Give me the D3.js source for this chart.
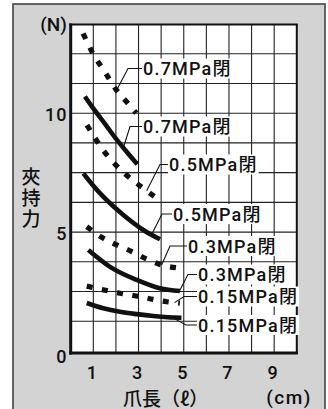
<!DOCTYPE html>
<html>
<head>
<meta charset="utf-8">
<script src="https://cdn.jsdelivr.net/npm/d3@7"></script>
<style>
    body { margin: 0; background: #fff; }
    text { font-family: Roboto, "Liberation Sans", Arial, "Noto Sans CJK JP", sans-serif; font-weight: 500; fill: #111; }
    .cjk { font-family: "Noto Sans CJK JP", sans-serif; }
</style>
</head>
<body>
<div id="chart"></div>
<script>
// axis ticks
const xTicks = [1, 3, 5, 7, 9];
const yTicks = [0, 5, 10];

// grip length (cm) / gripping force (N), one pair per curve
const len07dot = [0.55, 1.0, 1.5, 2.0, 2.5, 2.9];
const force07dot = [13.35, 12.48, 11.75, 11.0, 10.45, 10.0];
const len07 = [0.63, 1.0, 1.5, 2.0, 2.5, 2.95];
const force07 = [10.7, 10.2, 9.57, 8.93, 8.35, 7.85];
const len05dot = [0.72, 1.07, 1.43, 1.87, 2.31, 2.84, 3.37, 3.92];
const force05dot = [9.5, 8.96, 8.45, 7.95, 7.53, 7.11, 6.73, 6.35];
const len05 = [0.56, 1.0, 1.44, 2.33, 3.21, 3.95];
const force05 = [7.47, 6.95, 6.49, 5.72, 5.09, 4.70];
const len03dot = [0.71, 1.37, 2.03, 2.70, 3.36, 4.02, 4.87];
const force03dot = [5.23, 4.78, 4.46, 4.18, 3.87, 3.62, 3.48];
const len03 = [0.78, 1.74, 2.92, 3.94, 4.83];
const force03 = [4.25, 3.54, 2.99, 2.64, 2.52];
const len015dot = [0.71, 1.44, 2.18, 2.92, 3.65, 4.25, 4.83];
const force015dot = [2.73, 2.57, 2.43, 2.31, 2.17, 2.07, 2.01];
const len015 = [0.71, 1.44, 2.18, 2.92, 3.65, 4.3, 4.9];
const force015 = [2.02, 1.80, 1.65, 1.55, 1.47, 1.42, 1.40];

const curveNames = ["0.7MPa閉", "0.7MPa閉", "0.5MPa閉", "0.5MPa閉", "0.3MPa閉", "0.3MPa閉", "0.15MPa閉", "0.15MPa閉"];
const curveLens = [len07dot, len07, len05dot, len05, len03dot, len03, len015dot, len015];
const curveForces = [force07dot, force07, force05dot, force05, force03dot, force03, force015dot, force015];
// where each label's leader touches its curve (cm)
const leaderAt = [2.03, 2.33, 3.36, 3.58, 4.02, 4.81, 4.59, 4.48];

const W = 328, H = 409;
const plot = {left: 70.7, right: 296.8, top: 24, bottom: 351};

const svg = d3.select("#chart").append("svg")
    .attr("width", W)
    .attr("height", H);

// grey frame
svg.append("rect")
    .attr("x", 13).attr("y", 4)
    .attr("width", 312).attr("height", 420)
    .attr("fill", "#d3d3d3")
    .attr("stroke", "#444")
    .attr("stroke-width", 1.6);

// scales
const x = d3.scaleLinear().domain([0, 10]).range([plot.left, plot.right]);
const y = d3.scaleLinear().domain([0, 13.75]).range([plot.bottom, plot.top]);

// plot area
svg.append("rect")
    .attr("x", plot.left).attr("y", 24.5)
    .attr("width", plot.right - plot.left).attr("height", 353 - 24.5)
    .attr("fill", "#fff");

// grid
svg.append("g")
    .selectAll("line")
    .data(d3.range(1, 10))
    .join("line")
    .attr("x1", d => x(d)).attr("x2", d => x(d))
    .attr("y1", 24.5).attr("y2", 353)
    .attr("stroke", "#222").attr("stroke-width", 1.1);

svg.append("g")
    .selectAll("line")
    .data(d3.range(1, 11).map(i => i * 1.25))
    .join("line")
    .attr("x1", plot.left).attr("x2", plot.right)
    .attr("y1", d => y(d)).attr("y2", d => y(d))
    .attr("stroke", "#222").attr("stroke-width", 1.1);

// frame of plot
svg.append("line").attr("x1", plot.left - 1.5).attr("x2", plot.right + 1).attr("y1", 24.5).attr("y2", 24.5)
    .attr("stroke", "#111").attr("stroke-width", 2);
svg.append("line").attr("x1", plot.right).attr("x2", plot.right).attr("y1", 24.5).attr("y2", 354)
    .attr("stroke", "#111").attr("stroke-width", 2);
svg.append("line").attr("x1", plot.left).attr("x2", plot.left).attr("y1", 23.5).attr("y2", 354.5)
    .attr("stroke", "#111").attr("stroke-width", 3);
svg.append("line").attr("x1", plot.left - 1.5).attr("x2", plot.right + 1).attr("y1", 353).attr("y2", 353)
    .attr("stroke", "#111").attr("stroke-width", 3.2);

// tick labels
svg.append("g")
    .selectAll("text")
    .data(xTicks)
    .join("text")
    .attr("x", d => x(d) - 1.5)
    .attr("y", 372)
    .attr("text-anchor", "middle")
    .attr("dominant-baseline", "central")
    .attr("font-size", 18)
    .text(d => d);

svg.append("g")
    .selectAll("text")
    .data(yTicks)
    .join("text")
    .attr("x", 67.5)
    .attr("y", d => y(d) + (d === 0 ? 5 : 1))
    .attr("text-anchor", "end")
    .attr("dominant-baseline", "central")
    .attr("font-size", 18)
    .attr("letter-spacing", 1)
    .text(d => d);

// axis titles
svg.append("text")
    .attr("x", 53.5).attr("y", 24)
    .attr("text-anchor", "middle")
    .attr("dominant-baseline", "central")
    .attr("font-size", 19)
    .text("(N)");

svg.append("text")
    .attr("class", "cjk")
    .attr("x", 31).attr("y", 167)
    .style("writing-mode", "vertical-rl")
    .attr("font-size", 19)
    .attr("letter-spacing", 2)
    .text("夾持力");

svg.append("text")
    .attr("class", "cjk")
    .attr("x", 123).attr("y", 397)
    .attr("dominant-baseline", "central")
    .attr("font-size", 19)
    .text("爪長（ℓ）");

svg.append("text")
    .attr("x", 289).attr("y", 397)
    .attr("text-anchor", "middle")
    .attr("dominant-baseline", "central")
    .attr("font-size", 19)
    .attr("letter-spacing", 1.5)
    .text("(cm)");

// curves
const line = d3.line()
    .x(d => x(d[0]))
    .y(d => y(d[1]))
    .curve(d3.curveMonotoneX);

const curves = curveLens.map((lens, i) => lens.map((l, j) => [l, curveForces[i][j]]));

svg.append("g")
    .selectAll("path")
    .data(curves)
    .join("path")
    .attr("d", line)
    .attr("fill", "none")
    .attr("stroke", "#111")
    .attr("stroke-width", (d, i) => i % 2 === 0 ? 5.2 : 4.6)
    .attr("stroke-dasharray", (d, i) => i % 2 === 0 ? "6 9.5" : null);

// labels with leader lines
function forceAt(i, cm) {
    const lens = curveLens[i], f = curveForces[i];
    for (let j = 1; j < lens.length; j++) {
        if (cm <= lens[j]) {
            const t = (cm - lens[j - 1]) / (lens[j] - lens[j - 1]);
            return f[j - 1] + t * (f[j] - f[j - 1]);
        }
    }
    return f[f.length - 1];
}

const labelPos = [
    {tx: 143, ty: 68.5, hx: 128},
    {tx: 143, ty: 126.5, hx: 130},
    {tx: 169, ty: 164.5, hx: 160},
    {tx: 173, ty: 214, hx: 162},
    {tx: 188, ty: 246, hx: 170},
    {tx: 198, ty: 274.5, hx: 188},
    {tx: 198, ty: 296.5, hx: 184},
    {tx: 198, ty: 325, hx: 186}
];

const labels = svg.append("g");
curveNames.forEach((name, i) => {
    const p = labelPos[i];
    const g = labels.append("g");
    const bg = g.append("rect").attr("fill", "#fff");
    g.append("path")
        .attr("d", `M${p.tx - 1},${p.ty} L${p.hx},${p.ty} L${x(leaderAt[i])},${y(forceAt(i, leaderAt[i]))}`)
        .attr("fill", "none")
        .attr("stroke", "#111")
        .attr("stroke-width", 1.1);
    const t = g.append("text")
        .attr("x", p.tx).attr("y", p.ty)
        .attr("dominant-baseline", "central")
        .attr("font-size", 18)
        .attr("letter-spacing", 1.2)
        .text(name);
    const bb = t.node().getBBox();
    bg.attr("x", bb.x - 1).attr("y", p.ty - 10)
        .attr("width", bb.width + 2).attr("height", 20);
});
</script>
</body>
</html>
